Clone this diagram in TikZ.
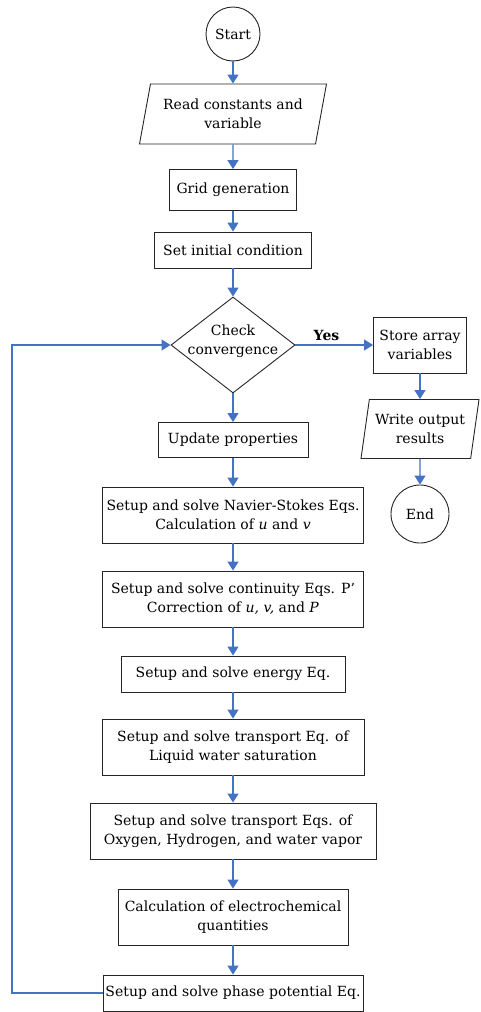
\documentclass[tikz,border=0pt]{standalone}
\usepackage{fontspec}
\setmainfont{DejaVu Serif}
\usepackage{tikz}
\usetikzlibrary{arrows,arrows.meta,shapes}
\usetikzlibrary{positioning}
\definecolor{flowblue}{HTML}{4472C4}
\tikzstyle{block} = [rectangle, draw=black!85, line width=0.9pt,
    align=center, minimum height=36pt, inner sep=2pt]
\tikzstyle{io} = [trapezium, trapezium left angle=72, trapezium right angle=108,
    trapezium stretches body, draw=black!85, line width=0.9pt, align=center, inner sep=2pt]
\tikzstyle{terminal} = [circle, draw=black!85, line width=0.9pt, inner sep=1pt,
    minimum size=54pt]
\tikzstyle{decision} = [diamond, draw=black!85, line width=0.9pt, inner sep=0pt,
    minimum width=124pt, minimum height=96pt]
\tikzstyle{line} = [draw=flowblue, line width=1.2pt,
    -{Triangle[length=9pt,width=11pt]}]

\begin{document}
\begin{tikzpicture}[x=1pt, y=1pt, node distance=80pt,
    font=\fontsize{14}{19}\selectfont]
    \useasboundingbox (0,0) rectangle (480,-1012);
    % Place nodes
    \node [terminal] (start) at (233,-34) {Start};
    \node [io, below of=start, node distance=80pt, minimum width=187pt,
    minimum height=60pt] (read) {Read constants and\\variable};
    \node [block, below of=read, node distance=76pt, minimum width=127pt,
    minimum height=41pt] (grid) {Grid generation};
    \node [block, below of=grid, node distance=60pt, minimum width=157pt]
    (init) {Set initial condition};
    \node [decision, below of=init, node distance=95pt,
    label={[align=center, yshift=4pt]center:Check\\convergence}] (check) {};
    \node [block, right of=check, node distance=187pt, minimum width=93pt,
    minimum height=56pt] (store) {Store array\\variables};
    \node [io, below of=store, node distance=84pt, minimum width=118pt,
    minimum height=59pt, trapezium left angle=76, trapezium right angle=104]
    (write) {Write output\\results};
    \node [terminal, below of=write, node distance=85pt, minimum size=58pt]
    (end) {End};
    \node [block, below of=check, node distance=95pt, minimum width=150pt,
    minimum height=35pt] (update) {Update properties};
    \node [block, below of=update, node distance=75pt, minimum width=261pt,
    minimum height=56pt] (ns)
    {Setup and solve Navier-Stokes Eqs.\\Calculation of \textit{u} and \textit{v}};
    \node [block, below of=ns, node distance=84pt, minimum width=261pt,
    minimum height=56pt] (cont)
    {Setup and solve continuity Eqs. P'\\Correction of \textit{u, v,} and \textit{P}};
    \node [block, below of=cont, node distance=75pt, minimum width=224pt]
    (energy) {Setup and solve energy Eq.};
    \node [block, below of=energy, node distance=73pt, minimum width=262pt,
    minimum height=56pt] (liquid)
    {Setup and solve transport Eq. of\\Liquid water saturation};
    \node [block, below of=liquid, node distance=84pt, minimum width=286pt,
    minimum height=56pt] (species)
    {Setup and solve transport Eqs. of\\Oxygen, Hydrogen, and water vapor};
    \node [block, below of=species, node distance=86pt, minimum width=230pt,
    minimum height=56pt] (electro)
    {Calculation of electrochemical\\quantities};
    \node [block, below of=electro, node distance=76pt, minimum width=260pt,
    minimum height=36pt] (phase) {Setup and solve phase potential Eq.};
    \coordinate (back) at (12,-345);
    % Draw edges
    \draw [line] (start) -- (read);
    \draw [line] (read) -- (grid);
    \draw [line] (grid) -- (init);
    \draw [line] (init) -- (check);
    \draw [line] (check) -- node[above, pos=0.4] {\bfseries Yes} (store);
    \draw [line] (store) -- (write);
    \draw [line] (write) -- (end);
    \draw [line] (check) -- (update);
    \draw [line] (update) -- (ns);
    \draw [line] (ns) -- (cont);
    \draw [line] (cont) -- (energy);
    \draw [line] (energy) -- (liquid);
    \draw [line] (liquid) -- (species);
    \draw [line] (species) -- (electro);
    \draw [line] (electro) -- (phase);
    \draw [line] (phase.west) -| (back) -- (check.west);
\end{tikzpicture}
\end{document}
